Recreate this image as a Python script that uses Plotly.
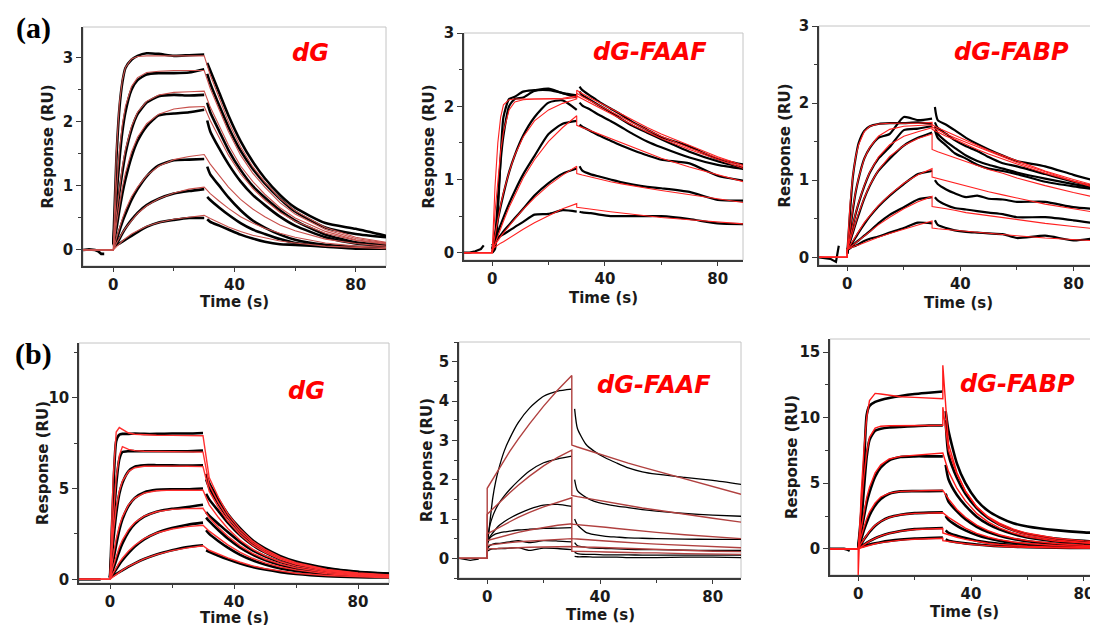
import plotly.graph_objects as go
from plotly.subplots import make_subplots

# time grids (s): association, dissociation (fit / measured) and pre-injection baseline
T_ON = [0, 1, 2, 3, 4, 6, 8, 11, 15, 20, 25, 30]
T_OFF = [30, 32, 35, 38, 42, 46, 50, 55, 60, 70, 80, 90]
T_OFF_DATA = [31, 32, 35, 38, 42, 46, 50, 55, 60, 70, 80, 90]
T_BASE = [-10, -8, -6, -5, -4, -3]

# ---------- (a) dG ----------
a_dg_base = [0.0, 0.01, 0.0, -0.02, -0.06, -0.06]
a_dg_fit_on = [
    [0, 1.52, 2.28, 2.66, 2.85, 2.98, 3.02, 3.03, 3.03, 3.03, 3.03, 3.03],
    [0, 0.92, 1.54, 1.96, 2.24, 2.55, 2.69, 2.77, 2.79, 2.80, 2.80, 2.80],
    [0, 0.55, 0.98, 1.31, 1.57, 1.93, 2.15, 2.32, 2.42, 2.46, 2.47, 2.48],
    [0, 0.39, 0.71, 0.98, 1.20, 1.53, 1.76, 1.97, 2.12, 2.20, 2.23, 2.24],
    [0, 0.18, 0.35, 0.49, 0.62, 0.83, 0.98, 1.16, 1.31, 1.41, 1.46, 1.49],
    [0, 0.10, 0.19, 0.27, 0.34, 0.46, 0.57, 0.69, 0.80, 0.89, 0.95, 0.98],
    [0, 0.05, 0.10, 0.14, 0.18, 0.25, 0.30, 0.37, 0.43, 0.48, 0.51, 0.54],
]
a_dg_fit_off = [
    [3.03, 2.73, 2.36, 2.00, 1.61, 1.30, 1.06, 0.80, 0.61, 0.35, 0.20, 0.12],
    [2.80, 2.52, 2.18, 1.85, 1.48, 1.20, 0.98, 0.74, 0.56, 0.32, 0.18, 0.11],
    [2.48, 2.23, 1.93, 1.64, 1.31, 1.07, 0.87, 0.66, 0.50, 0.29, 0.16, 0.10],
    [2.24, 2.02, 1.75, 1.48, 1.19, 0.96, 0.78, 0.59, 0.45, 0.26, 0.15, 0.09],
    [1.49, 1.34, 1.16, 0.98, 0.79, 0.64, 0.52, 0.39, 0.30, 0.17, 0.10, 0.06],
    [0.98, 0.88, 0.76, 0.65, 0.52, 0.42, 0.34, 0.26, 0.20, 0.11, 0.06, 0.04],
    [0.54, 0.49, 0.42, 0.36, 0.29, 0.23, 0.19, 0.14, 0.11, 0.06, 0.04, 0.02],
]
a_dg_data_on = [
    [0.10, 1.40, 2.20, 2.62, 2.84, 2.97, 3.03, 3.07, 3.06, 3.03, 3.04, 3.05],
    [0.10, 0.80, 1.40, 1.85, 2.15, 2.50, 2.65, 2.74, 2.76, 2.76, 2.77, 2.82],
    [0.10, 0.50, 0.90, 1.22, 1.50, 1.88, 2.12, 2.30, 2.40, 2.42, 2.41, 2.42],
    [0.08, 0.32, 0.62, 0.88, 1.10, 1.45, 1.70, 1.93, 2.10, 2.13, 2.15, 2.19],
    [0.08, 0.15, 0.30, 0.44, 0.56, 0.78, 0.95, 1.15, 1.32, 1.40, 1.41, 1.42],
    [0.06, 0.09, 0.17, 0.26, 0.34, 0.47, 0.58, 0.70, 0.80, 0.88, 0.92, 0.95],
    [0.05, 0.08, 0.10, 0.13, 0.16, 0.22, 0.28, 0.36, 0.43, 0.47, 0.50, 0.50],
]
a_dg_data_off = [
    [2.92, 2.80, 2.45, 2.10, 1.70, 1.38, 1.12, 0.86, 0.66, 0.42, 0.33, 0.22],
    [2.75, 2.60, 2.25, 1.92, 1.55, 1.27, 1.04, 0.80, 0.60, 0.35, 0.25, 0.20],
    [2.30, 2.15, 1.85, 1.56, 1.25, 1.00, 0.82, 0.62, 0.46, 0.24, 0.12, 0.08],
    [2.02, 1.85, 1.58, 1.34, 1.07, 0.86, 0.70, 0.52, 0.38, 0.20, 0.10, 0.07],
    [1.30, 1.18, 1.00, 0.82, 0.62, 0.46, 0.35, 0.24, 0.16, 0.08, 0.05, 0.04],
    [0.83, 0.78, 0.66, 0.55, 0.42, 0.32, 0.25, 0.17, 0.11, 0.06, 0.04, 0.03],
    [0.48, 0.44, 0.38, 0.32, 0.24, 0.18, 0.13, 0.09, 0.08, 0.05, 0.02, 0.02],
]

# ---------- (a) dG-FAAF ----------
a_faaf_base = [0.0, 0.0, 0.02, 0.03, 0.05, 0.10]
a_faaf_fit_on = [
    [0, 0.90, 1.50, 1.85, 2.02, 2.09, 2.10, 2.10, 2.10, 2.10, 2.10, 2.12],
    [0, 0.55, 1.00, 1.38, 1.65, 1.95, 2.06, 2.09, 2.10, 2.10, 2.11, 2.14],
    [0, 0.24, 0.46, 0.65, 0.82, 1.10, 1.33, 1.58, 1.80, 1.95, 2.04, 2.10],
    [0, 0.12, 0.23, 0.33, 0.43, 0.62, 0.79, 1.02, 1.27, 1.52, 1.71, 1.87],
    [0.05, 0.11, 0.17, 0.22, 0.27, 0.37, 0.46, 0.59, 0.75, 0.92, 1.06, 1.18],
    [0.05, 0.08, 0.10, 0.13, 0.15, 0.20, 0.25, 0.32, 0.41, 0.51, 0.60, 0.67],
]
a_faaf_fit_off = [
    [2.22, 2.17, 2.11, 2.04, 1.96, 1.88, 1.80, 1.71, 1.62, 1.46, 1.31, 1.18],
    [2.18, 2.13, 2.07, 2.00, 1.92, 1.84, 1.77, 1.68, 1.59, 1.43, 1.29, 1.16],
    [2.14, 2.10, 2.03, 1.97, 1.89, 1.81, 1.74, 1.65, 1.56, 1.41, 1.27, 1.14],
    [1.74, 1.71, 1.66, 1.61, 1.55, 1.49, 1.43, 1.36, 1.29, 1.17, 1.06, 0.96],
    [1.08, 1.06, 1.03, 1.01, 0.97, 0.94, 0.91, 0.88, 0.85, 0.79, 0.73, 0.68],
    [0.62, 0.61, 0.60, 0.58, 0.56, 0.54, 0.52, 0.50, 0.48, 0.45, 0.42, 0.39],
]
a_faaf_data_on = [
    [0.00, 0.05, 0.55, 1.30, 1.85, 2.10, 2.13, 2.20, 2.22, 2.24, 2.18, 2.15],
    [0.00, 0.20, 0.70, 1.25, 1.60, 2.00, 2.10, 2.12, 2.21, 2.22, 2.18, 2.12],
    [0.05, 0.25, 0.45, 0.63, 0.80, 1.10, 1.33, 1.60, 1.85, 2.05, 2.08, 1.95],
    [0.10, 0.15, 0.28, 0.38, 0.48, 0.67, 0.84, 1.07, 1.32, 1.62, 1.76, 1.80],
    [0.10, 0.14, 0.20, 0.24, 0.29, 0.38, 0.47, 0.60, 0.78, 0.95, 1.08, 1.15],
    [0.05, 0.15, 0.20, 0.23, 0.25, 0.30, 0.35, 0.42, 0.52, 0.53, 0.58, 0.56],
]
a_faaf_data_off = [
    [2.27, 2.22, 2.14, 2.06, 1.97, 1.88, 1.78, 1.68, 1.58, 1.45, 1.28, 1.20],
    [2.20, 2.15, 2.08, 2.01, 1.92, 1.82, 1.73, 1.64, 1.55, 1.38, 1.25, 1.15],
    [2.05, 2.01, 1.95, 1.88, 1.80, 1.71, 1.62, 1.52, 1.44, 1.30, 1.20, 1.14],
    [1.75, 1.72, 1.66, 1.60, 1.53, 1.46, 1.40, 1.33, 1.27, 1.22, 1.05, 0.98],
    [1.18, 1.12, 1.07, 1.04, 1.00, 0.96, 0.93, 0.90, 0.88, 0.83, 0.72, 0.71],
    [0.56, 0.55, 0.54, 0.52, 0.50, 0.50, 0.50, 0.50, 0.50, 0.46, 0.40, 0.39],
]

# ---------- (a) dG-FABP ----------
a_fabp_base = [0.0, -0.01, -0.02, -0.04, -0.06, 0.15]
a_fabp_fit_on = [
    [0.10, 0.70, 1.07, 1.31, 1.46, 1.63, 1.70, 1.73, 1.74, 1.74, 1.74, 1.75],
    [0.10, 0.40, 0.65, 0.86, 1.03, 1.28, 1.43, 1.57, 1.66, 1.70, 1.71, 1.72],
    [0.10, 0.27, 0.43, 0.58, 0.71, 0.93, 1.11, 1.30, 1.46, 1.57, 1.63, 1.68],
    [0.10, 0.22, 0.34, 0.46, 0.57, 0.77, 0.94, 1.13, 1.31, 1.45, 1.54, 1.60],
    [0.10, 0.16, 0.22, 0.28, 0.34, 0.45, 0.54, 0.67, 0.81, 0.96, 1.07, 1.15],
    [0.10, 0.13, 0.16, 0.19, 0.22, 0.28, 0.34, 0.42, 0.52, 0.63, 0.72, 0.79],
    [0.10, 0.12, 0.13, 0.15, 0.16, 0.19, 0.22, 0.26, 0.31, 0.37, 0.42, 0.47],
]
a_fabp_fit_off = [
    [1.72, 1.68, 1.63, 1.58, 1.52, 1.45, 1.39, 1.32, 1.25, 1.12, 1.01, 0.91],
    [1.69, 1.65, 1.60, 1.55, 1.49, 1.43, 1.37, 1.30, 1.23, 1.11, 0.99, 0.90],
    [1.66, 1.62, 1.57, 1.53, 1.46, 1.40, 1.34, 1.27, 1.21, 1.09, 0.98, 0.88],
    [1.40, 1.37, 1.33, 1.29, 1.24, 1.19, 1.14, 1.09, 1.03, 0.93, 0.84, 0.76],
    [1.04, 1.02, 0.99, 0.96, 0.92, 0.88, 0.85, 0.81, 0.77, 0.69, 0.63, 0.57],
    [0.66, 0.65, 0.63, 0.61, 0.58, 0.56, 0.54, 0.51, 0.49, 0.44, 0.40, 0.36],
    [0.38, 0.37, 0.36, 0.35, 0.34, 0.32, 0.31, 0.29, 0.28, 0.25, 0.23, 0.21],
]
a_fabp_data_on = [
    [0.05, 0.60, 1.05, 1.30, 1.48, 1.64, 1.70, 1.73, 1.74, 1.74, 1.75, 1.73],
    [0.05, 0.35, 0.62, 0.85, 1.02, 1.28, 1.42, 1.55, 1.60, 1.82, 1.78, 1.80],
    [0.05, 0.25, 0.42, 0.57, 0.70, 0.92, 1.10, 1.28, 1.43, 1.65, 1.67, 1.70],
    [0.05, 0.20, 0.32, 0.44, 0.55, 0.76, 0.93, 1.12, 1.28, 1.45, 1.55, 1.62],
    [0.10, 0.15, 0.20, 0.26, 0.32, 0.43, 0.53, 0.66, 0.80, 0.95, 1.08, 1.12],
    [0.10, 0.12, 0.16, 0.19, 0.22, 0.28, 0.34, 0.44, 0.55, 0.65, 0.75, 0.78],
    [0.10, 0.12, 0.14, 0.15, 0.17, 0.21, 0.24, 0.27, 0.32, 0.38, 0.45, 0.44],
]
a_fabp_data_off = [
    [1.95, 1.78, 1.72, 1.65, 1.55, 1.47, 1.40, 1.32, 1.25, 1.18, 1.07, 0.97],
    [1.75, 1.68, 1.60, 1.52, 1.44, 1.38, 1.30, 1.22, 1.18, 1.08, 0.98, 0.90],
    [1.70, 1.60, 1.50, 1.42, 1.32, 1.25, 1.20, 1.15, 1.10, 1.02, 0.95, 0.88],
    [1.65, 1.55, 1.45, 1.35, 1.28, 1.20, 1.15, 1.12, 1.08, 0.98, 0.92, 0.87],
    [1.00, 0.95, 0.88, 0.83, 0.78, 0.80, 0.76, 0.75, 0.72, 0.72, 0.65, 0.62],
    [0.78, 0.74, 0.68, 0.64, 0.62, 0.60, 0.58, 0.56, 0.52, 0.52, 0.48, 0.43],
    [0.48, 0.42, 0.38, 0.35, 0.33, 0.32, 0.31, 0.30, 0.25, 0.28, 0.22, 0.26],
]

# ---------- (b) dG ----------
b_dg_base = [0.0, 0.0, 0.0, 0.0, 0.0, 0.0]
b_dg_fit_on = [
    [0, 5.50, 8.10, 8.35, 8.25, 8.05, 7.98, 7.95, 7.93, 7.92, 7.91, 7.90],
    [0, 3.20, 5.60, 6.80, 7.30, 7.15, 7.08, 7.05, 7.03, 7.02, 7.01, 7.00],
    [0, 2.46, 3.95, 4.86, 5.41, 5.94, 6.14, 6.22, 6.24, 6.23, 6.22, 6.20],
    [0, 1.27, 2.22, 2.92, 3.44, 4.11, 4.47, 4.74, 4.87, 4.91, 4.91, 4.90],
    [0, 0.71, 1.29, 1.77, 2.16, 2.74, 3.13, 3.48, 3.72, 3.85, 3.89, 3.91],
    [0, 0.34, 0.65, 0.92, 1.16, 1.56, 1.88, 2.24, 2.55, 2.77, 2.90, 2.98],
    [0, 0.14, 0.28, 0.40, 0.51, 0.72, 0.90, 1.13, 1.36, 1.58, 1.73, 1.85],
]
b_dg_fit_off = [
    [7.90, 5.60, 4.50, 3.60, 2.75, 2.10, 1.65, 1.22, 0.92, 0.55, 0.35, 0.24],
    [7.00, 5.20, 4.20, 3.40, 2.60, 2.00, 1.57, 1.16, 0.88, 0.52, 0.33, 0.22],
    [6.20, 4.85, 3.95, 3.20, 2.45, 1.88, 1.48, 1.10, 0.83, 0.49, 0.31, 0.21],
    [4.90, 4.10, 3.40, 2.80, 2.15, 1.66, 1.30, 0.97, 0.73, 0.44, 0.28, 0.19],
    [3.90, 3.40, 2.85, 2.37, 1.84, 1.43, 1.12, 0.84, 0.63, 0.38, 0.24, 0.16],
    [2.98, 2.65, 2.25, 1.90, 1.48, 1.16, 0.91, 0.68, 0.52, 0.31, 0.20, 0.13],
    [1.85, 1.60, 1.38, 1.18, 0.94, 0.74, 0.59, 0.45, 0.34, 0.21, 0.13, 0.09],
]
b_dg_data_on = [
    [0.10, 4.50, 7.60, 7.95, 8.00, 8.00, 8.02, 8.00, 8.00, 8.02, 8.02, 8.05],
    [0.10, 2.80, 5.20, 6.60, 7.00, 7.05, 7.05, 7.05, 7.05, 7.05, 7.05, 7.08],
    [0.10, 2.00, 3.60, 4.70, 5.30, 5.95, 6.20, 6.28, 6.28, 6.27, 6.26, 6.27],
    [0.10, 1.00, 1.90, 2.70, 3.30, 4.05, 4.48, 4.78, 4.92, 4.95, 4.96, 5.00],
    [0.10, 0.55, 1.05, 1.55, 1.98, 2.62, 3.05, 3.45, 3.72, 3.88, 3.98, 4.10],
    [0.10, 0.30, 0.55, 0.82, 1.05, 1.45, 1.80, 2.20, 2.55, 2.82, 3.00, 3.12],
    [0.10, 0.20, 0.30, 0.40, 0.50, 0.70, 0.88, 1.12, 1.37, 1.60, 1.78, 1.88],
]
b_dg_data_off = [
    [5.80, 5.30, 4.40, 3.60, 2.80, 2.15, 1.70, 1.28, 0.98, 0.62, 0.42, 0.32],
    [5.50, 5.05, 4.15, 3.40, 2.62, 2.02, 1.60, 1.20, 0.92, 0.58, 0.40, 0.30],
    [4.70, 4.40, 3.75, 3.12, 2.42, 1.88, 1.48, 1.10, 0.84, 0.53, 0.37, 0.28],
    [3.70, 3.50, 3.05, 2.60, 2.05, 1.60, 1.27, 0.95, 0.73, 0.46, 0.32, 0.25],
    [3.40, 3.20, 2.70, 2.25, 1.75, 1.36, 1.06, 0.79, 0.60, 0.38, 0.28, 0.22],
    [2.70, 2.50, 2.10, 1.75, 1.35, 1.05, 0.82, 0.60, 0.46, 0.30, 0.22, 0.18],
    [1.60, 1.52, 1.30, 1.10, 0.87, 0.68, 0.54, 0.40, 0.30, 0.18, 0.12, 0.10],
]

# ---------- (b) dG-FAAF ----------
b_faaf_base = [0.0, -0.02, -0.05, -0.04, -0.03, -0.02]
b_faaf_fit_on = [
    [1.78, 1.90, 2.03, 2.15, 2.27, 2.50, 2.72, 3.03, 3.42, 3.87, 4.28, 4.65],
    [1.12, 1.19, 1.26, 1.33, 1.40, 1.54, 1.67, 1.86, 2.09, 2.35, 2.57, 2.75],
    [0.62, 0.66, 0.70, 0.74, 0.78, 0.86, 0.93, 1.04, 1.17, 1.31, 1.43, 1.54],
    [0.45, 0.47, 0.49, 0.51, 0.53, 0.57, 0.61, 0.66, 0.72, 0.78, 0.84, 0.88],
    [0.33, 0.34, 0.35, 0.36, 0.37, 0.39, 0.40, 0.42, 0.44, 0.46, 0.48, 0.50],
    [0.24, 0.24, 0.25, 0.25, 0.25, 0.26, 0.26, 0.27, 0.28, 0.29, 0.29, 0.30],
]
b_faaf_fit_off = [
    [2.88, 2.83, 2.76, 2.69, 2.60, 2.51, 2.42, 2.32, 2.22, 2.03, 1.83, 1.63],
    [1.60, 1.57, 1.53, 1.49, 1.44, 1.39, 1.34, 1.28, 1.23, 1.12, 1.02, 0.92],
    [0.87, 0.86, 0.84, 0.82, 0.79, 0.76, 0.73, 0.69, 0.66, 0.60, 0.55, 0.50],
    [0.50, 0.49, 0.48, 0.46, 0.44, 0.42, 0.41, 0.38, 0.36, 0.33, 0.30, 0.27],
    [0.30, 0.29, 0.28, 0.28, 0.27, 0.26, 0.25, 0.23, 0.22, 0.20, 0.18, 0.17],
    [0.18, 0.18, 0.17, 0.17, 0.16, 0.16, 0.15, 0.14, 0.14, 0.12, 0.11, 0.10],
]
b_faaf_data_on = [
    [0.30, 0.95, 1.55, 1.95, 2.25, 2.72, 3.05, 3.45, 3.82, 4.12, 4.25, 4.30],
    [0.45, 0.85, 1.08, 1.25, 1.38, 1.58, 1.75, 1.97, 2.22, 2.43, 2.53, 2.60],
    [0.40, 0.55, 0.65, 0.74, 0.82, 0.93, 1.02, 1.13, 1.25, 1.35, 1.37, 1.32],
    [0.35, 0.52, 0.58, 0.62, 0.64, 0.67, 0.69, 0.72, 0.74, 0.76, 0.77, 0.78],
    [0.25, 0.33, 0.36, 0.38, 0.38, 0.40, 0.42, 0.45, 0.40, 0.45, 0.44, 0.42],
    [0.18, 0.22, 0.24, 0.24, 0.25, 0.25, 0.26, 0.27, 0.20, 0.26, 0.25, 0.22],
]
b_faaf_data_off = [
    [3.80, 3.30, 2.90, 2.72, 2.55, 2.42, 2.30, 2.20, 2.14, 2.06, 1.98, 1.88],
    [2.00, 1.72, 1.55, 1.45, 1.38, 1.33, 1.29, 1.24, 1.20, 1.14, 1.10, 1.07],
    [1.00, 0.85, 0.66, 0.60, 0.56, 0.54, 0.52, 0.51, 0.50, 0.49, 0.48, 0.48],
    [0.40, 0.32, 0.28, 0.26, 0.25, 0.24, 0.23, 0.22, 0.22, 0.21, 0.20, 0.20],
    [0.15, 0.12, 0.10, 0.10, 0.09, 0.09, 0.09, 0.08, 0.08, 0.08, 0.08, 0.08],
    [0.05, 0.04, 0.04, 0.03, 0.03, 0.03, 0.02, 0.02, 0.02, 0.03, 0.03, 0.02],
]

# ---------- (b) dG-FABP ----------
b_fabp_base = [0.0, 0.0, 0.02, 0.0, -0.05, -0.15]
b_fabp_fit_on = [
    [-2.0, 4.0, 7.5, 10.0, 11.3, 11.85, 11.8, 11.7, 11.6, 11.55, 11.5, 11.45],
    [0, 3.0, 5.5, 7.3, 8.5, 9.2, 9.35, 9.38, 9.40, 9.40, 9.40, 9.42],
    [0, 1.5, 2.8, 3.9, 4.7, 5.8, 6.4, 6.85, 7.05, 7.15, 7.22, 7.30],
    [0, 0.9, 1.65, 2.3, 2.8, 3.5, 3.95, 4.25, 4.38, 4.43, 4.44, 4.45],
    [0, 0.4, 0.75, 1.08, 1.35, 1.8, 2.1, 2.4, 2.6, 2.7, 2.74, 2.75],
    [0, 0.15, 0.30, 0.45, 0.58, 0.80, 0.98, 1.18, 1.35, 1.47, 1.52, 1.55],
    [0, 0.08, 0.15, 0.22, 0.28, 0.38, 0.47, 0.57, 0.66, 0.73, 0.77, 0.80],
]
b_fabp_fit_off = [
    [14.0, 8.0, 5.8, 4.4, 3.2, 2.45, 1.95, 1.50, 1.18, 0.80, 0.60, 0.50],
    [10.8, 7.5, 5.7, 4.4, 3.2, 2.40, 1.85, 1.38, 1.06, 0.68, 0.48, 0.38],
    [7.30, 5.9, 4.6, 3.65, 2.70, 2.05, 1.60, 1.20, 0.92, 0.58, 0.40, 0.30],
    [4.45, 3.8, 3.0, 2.40, 1.80, 1.38, 1.07, 0.80, 0.62, 0.40, 0.27, 0.20],
    [2.75, 2.4, 1.95, 1.57, 1.18, 0.90, 0.70, 0.52, 0.40, 0.25, 0.17, 0.12],
    [1.20, 1.05, 0.88, 0.72, 0.55, 0.42, 0.33, 0.25, 0.19, 0.12, 0.08, 0.06],
    [0.62, 0.55, 0.46, 0.38, 0.30, 0.23, 0.18, 0.14, 0.10, 0.07, 0.05, 0.04],
]
b_fabp_data_on = [
    [0.1, 2.5, 6.0, 10.2, 10.9, 11.2, 11.35, 11.5, 11.65, 11.8, 11.9, 12.0],
    [0.1, 1.8, 4.5, 7.0, 8.3, 9.0, 9.15, 9.25, 9.30, 9.35, 9.40, 9.40],
    [0.1, 1.2, 2.4, 3.5, 4.3, 5.5, 6.2, 6.75, 7.0, 7.05, 7.05, 7.05],
    [0.1, 0.7, 1.4, 2.0, 2.55, 3.3, 3.8, 4.2, 4.38, 4.40, 4.40, 4.42],
    [0.1, 0.35, 0.7, 1.0, 1.28, 1.75, 2.08, 2.4, 2.6, 2.72, 2.76, 2.78],
    [0.1, 0.2, 0.32, 0.45, 0.58, 0.80, 0.98, 1.18, 1.36, 1.50, 1.55, 1.58],
    [0.1, 0.15, 0.22, 0.28, 0.33, 0.42, 0.50, 0.60, 0.70, 0.78, 0.82, 0.85],
]
b_fabp_data_off = [
    [10.5, 9.0, 6.5, 5.0, 3.7, 2.9, 2.40, 1.95, 1.70, 1.42, 1.25, 1.17],
    [9.8, 7.2, 5.4, 4.2, 3.1, 2.35, 1.85, 1.42, 1.12, 0.78, 0.60, 0.50],
    [6.4, 5.3, 4.1, 3.3, 2.45, 1.88, 1.48, 1.12, 0.87, 0.58, 0.45, 0.38],
    [4.2, 3.6, 2.85, 2.25, 1.68, 1.28, 1.0, 0.75, 0.58, 0.38, 0.28, 0.22],
    [2.5, 2.2, 1.75, 1.40, 1.05, 0.80, 0.62, 0.46, 0.36, 0.24, 0.18, 0.15],
    [1.40, 1.22, 1.0, 0.82, 0.62, 0.48, 0.38, 0.28, 0.22, 0.15, 0.12, 0.10],
    [0.72, 0.62, 0.50, 0.41, 0.32, 0.25, 0.20, 0.15, 0.12, 0.08, 0.06, 0.05],
]

W, H = 1098, 625
OFF = 8  # the page shifts the figure by its 8px body margin


def px(x):
    return (x - OFF) / W


def py(y):
    return 1 - (y - OFF) / H


panels = [
    dict(name='dG', base=a_dg_base, fon=a_dg_fit_on, foff=a_dg_fit_off, don=a_dg_data_on, doff=a_dg_data_off,
         box=(83, 27, 386, 266), xr=[-10, 90], yr=[-0.25, 3.48], dy=1, fc='#c8504c', fw=1.1, dw=2.6,
         lab=(311, 53), ytx=47, xty=302),
    dict(name='dG-FAAF', base=a_faaf_base, fon=a_faaf_fit_on, foff=a_faaf_fit_off, don=a_faaf_data_on, doff=a_faaf_data_off,
         box=(464, 33, 743, 260), xr=[-10, 89], yr=[-0.1, 3.001], dy=1, fc='#ff2020', fw=1.1, dw=2.2,
         lab=(650, 52), ytx=428, xty=298),
    dict(name='dG-FABP', base=a_fabp_base, fon=a_fabp_fit_on, foff=a_fabp_fit_off, don=a_fabp_data_on, doff=a_fabp_data_off,
         box=(819, 26, 1098, 265), xr=[-10, 88.7], yr=[-0.1, 3.001], dy=1, fc='#ff2020', fw=1.1, dw=2.2,
         lab=(1011, 52), ytx=785, xty=303),
    dict(name='dG', base=b_dg_base, fon=b_dg_fit_on, foff=b_dg_fit_off, don=b_dg_data_on, doff=b_dg_data_off,
         box=(79, 343, 389, 583), xr=[-10, 90], yr=[-0.2, 13], dy=5, fc='#ff3030', fw=1.4, dw=2.6,
         lab=(306, 391), ytx=43, xty=618),
    dict(name='dG-FAAF', base=b_faaf_base, fon=b_faaf_fit_on, foff=b_faaf_fit_off, don=b_faaf_data_on, doff=b_faaf_data_off,
         box=(459, 342, 741, 578), xr=[-10, 90], yr=[-0.5, 5.5], dy=1, fc='#b0403f', fw=1.4, dw=1.3,
         lab=(654, 385), ytx=427, xty=615),
    dict(name='dG-FABP', base=b_fabp_base, fon=b_fabp_fit_on, foff=b_fabp_fit_off, don=b_fabp_data_on, doff=b_fabp_data_off,
         box=(830, 339, 1098, 575), xr=[-10, 85], yr=[-2, 16], dy=5, fc='#ff1a1a', fw=1.4, dw=2.6,
         lab=(1018, 384), ytx=792, xty=612),
]

fig = make_subplots(rows=2, cols=3)
tick_font = dict(family='DejaVu Sans', size=15, color='#1a1a1a', weight='bold')
title_font = dict(family='DejaVu Sans', size=15, color='#1a1a1a', weight='bold')

for i, p in enumerate(panels, start=1):
    row, col = (i - 1) // 3 + 1, (i - 1) % 3 + 1
    # measured sensorgrams (black)
    fig.add_trace(go.Scatter(x=T_BASE, y=p['base'], mode='lines', line=dict(color='black', width=p['dw']),
                             showlegend=False, hoverinfo='skip'), row=row, col=col)
    for on, off in zip(p['don'], p['doff']):
        fig.add_trace(go.Scatter(x=T_ON + [None] + T_OFF_DATA, y=on + [None] + off, mode='lines',
                                 line=dict(color='black', width=p['dw'], shape='spline', smoothing=0.6),
                                 showlegend=False), row=row, col=col)
    # kinetic fits (red)
    for on, off in zip(p['fon'], p['foff']):
        fig.add_trace(go.Scatter(x=[-10, 0] + T_ON + T_OFF, y=[0, 0] + on + off, mode='lines',
                                 line=dict(color=p['fc'], width=p['fw']), showlegend=False), row=row, col=col)

    x0, y0, x1, y1 = p['box']
    sfx = '' if i == 1 else str(i)
    fig.layout['xaxis' + sfx].update(
        domain=[px(x0), px(x1)], range=p['xr'], tickvals=[0, 40, 80], showgrid=False, zeroline=False,
        showline=True, linecolor='#3a3a3a', linewidth=1.5, ticks='outside', ticklen=4, tickwidth=1.3,
        tickcolor='#3a3a3a', tickfont=tick_font, automargin=False,
        minor=dict(tickvals=[20, 60], ticks='outside', ticklen=3, tickcolor='#3a3a3a'))
    fig.layout['yaxis' + sfx].update(
        domain=[py(y1), py(y0)], range=p['yr'], dtick=p['dy'], tick0=0, showgrid=False, zeroline=False,
        showline=True, linecolor='#3a3a3a', linewidth=1.5, ticks='outside', ticklen=5, tickwidth=1.3,
        tickcolor='#3a3a3a', tickfont=tick_font, automargin=False,
        minor=dict(dtick=p['dy'] / 2, tick0=0, ticks='outside', ticklen=3, tickcolor='#3a3a3a'))
    xref = 'x domain' if i == 1 else f'x{i} domain'
    yref = 'y domain' if i == 1 else f'y{i} domain'
    fig.add_shape(type='rect', xref=xref, yref=yref, x0=0, x1=1, y0=0, y1=1,
                  line=dict(color='#c4c4c4', width=1), layer='below')
    # sample label
    fig.add_annotation(x=px(p['lab'][0]), y=py(p['lab'][1]), xref='paper', yref='paper', text=p['name'],
                       showarrow=False, xanchor='center', yanchor='middle',
                       font=dict(family='DejaVu Sans', size=24, color='#ff0000', weight='bold', style='italic'))
    # axis titles
    fig.add_annotation(x=px(p['ytx']), y=py((y0 + y1) / 2), xref='paper', yref='paper', text='Response (RU)',
                       textangle=-90, showarrow=False, xanchor='center', yanchor='middle', font=title_font)
    fig.add_annotation(x=px((x0 + x1) / 2), y=py(p['xty']), xref='paper', yref='paper', text='Time (s)',
                       showarrow=False, xanchor='center', yanchor='middle', font=title_font)

for txt, yy in [('(a)', 28), ('(b)', 354)]:
    fig.add_annotation(x=px(33), y=py(yy), xref='paper', yref='paper', text=txt, showarrow=False,
                       xanchor='center', yanchor='middle',
                       font=dict(family='Liberation Serif', size=30, color='black', weight='bold'))

fig.update_layout(width=W, height=H, margin=dict(l=0, r=0, t=0, b=0),
                  paper_bgcolor='white', plot_bgcolor='white', showlegend=False)
fig.write_html("out.html")
